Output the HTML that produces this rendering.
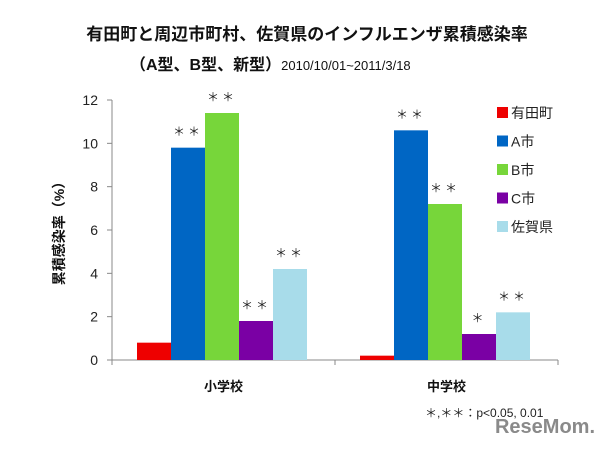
<!DOCTYPE html>
<html><head><meta charset="utf-8"><style>
body{margin:0;background:#fff;}
svg text{font-family:"Liberation Sans","Noto Sans CJK JP",sans-serif;}
</style></head><body>
<svg width="615" height="444" xmlns="http://www.w3.org/2000/svg">
<rect width="615" height="444" fill="#fff"/>
<text x="307" y="40" text-anchor="middle" font-size="17" font-weight="bold" fill="#111">有田町と周辺市町村、佐賀県のインフルエンザ累積感染率</text>
<text x="130" y="70" font-size="16" font-weight="bold" fill="#111">（A型、B型、新型）<tspan font-size="13" font-weight="normal">2010/10/01~2011/3/18</tspan></text>
<text transform="translate(64,230) rotate(-90)" text-anchor="middle" font-size="14" font-weight="bold" fill="#111">累積感染率（%）</text>
<g id="axes"></g><g id="bars"></g>
<g id="legend"></g>
<text x="425" y="417" font-size="12" fill="#222">＊,＊＊：p&lt;0.05, 0.01</text>
<text x="545" y="433" text-anchor="middle" font-size="20" font-weight="bold" fill="#8a8a8a">ReseMom.</text>
</svg>
<script>
const categories=["小学校","中学校"];
const seriesNames=["有田町","A市","B市","C市","佐賀県"];
const colors=["#ee0000","#0066c4","#77d63a","#7a00a4","#a8dcea"];
const values=[[0.8,9.8,11.4,1.8,4.2],[0.2,10.6,7.2,1.2,2.2]];
const sig=[["","**","**","**","**"],["","**","**","*","**"]];
const yTicks=[0,2,4,6,8,10,12];
const NS="http://www.w3.org/2000/svg";
const x0=112,catW=223,y0=360,y1=100,yMax=12,barW=34,pad=25;
const y=v=>y0-(v/yMax)*(y0-y1);
function mk(t,a,p,txt){const e=document.createElementNS(NS,t);for(const k in a)e.setAttribute(k,a[k]);if(txt!==undefined)e.textContent=txt;p.appendChild(e);return e;}
const ax=document.getElementById('axes');
const yl=mk('line',{x1:x0,y1:y1,x2:x0,y2:y0,stroke:'#888'},ax);


const xl=mk('line',{x1:x0,y1:y0,x2:x0+catW*categories.length,y2:y0,stroke:'#888'},ax);


yTicks.forEach(t=>{
  mk('line',{x1:x0-5,y1:y(t),x2:x0,y2:y(t),stroke:'#888'},ax);
  const tx=mk('text',{x:x0-14,y:y(t)+5,'text-anchor':'end','font-size':14,fill:'#222'},ax,String(t));
  
  
});
for(let i=0;i<=categories.length;i++) mk('line',{x1:x0+i*catW,y1:y0,x2:x0+i*catW,y2:y0+5,stroke:'#888'},ax);
const bg=document.getElementById('bars');
categories.forEach((c,ci)=>{
  const cl=mk('text',{x:x0+ci*catW+catW/2,y:391,'text-anchor':'middle','font-size':13,'font-weight':'bold',fill:'#111'},ax,c);
  
  
  values[ci].forEach((v,si)=>{
    const bx=x0+ci*catW+pad+si*barW;
    const r=mk('rect',{x:bx,y:y(v),width:barW,height:y0-y(v),fill:colors[si]},bg);
    
    
    if(sig[ci][si]){
      const s=mk('text',{x:bx+barW/2,y:y(v)-12,'text-anchor':'middle','font-size':12,fill:'#222','letter-spacing':'3'},bg,sig[ci][si].replace(/\*/g,'＊'));
      
      
    }
  });
});
const lg=document.getElementById('legend');
seriesNames.forEach((n,i)=>{
  const yy=113+i*28.5;
  const r=mk('rect',{x:497,y:yy-6,width:11,height:11,fill:colors[i]},lg);
  
  
  const t=mk('text',{x:511,y:yy+5,'font-size':14,fill:'#222'},lg,n);
  
  
});
</script>
</body></html>
